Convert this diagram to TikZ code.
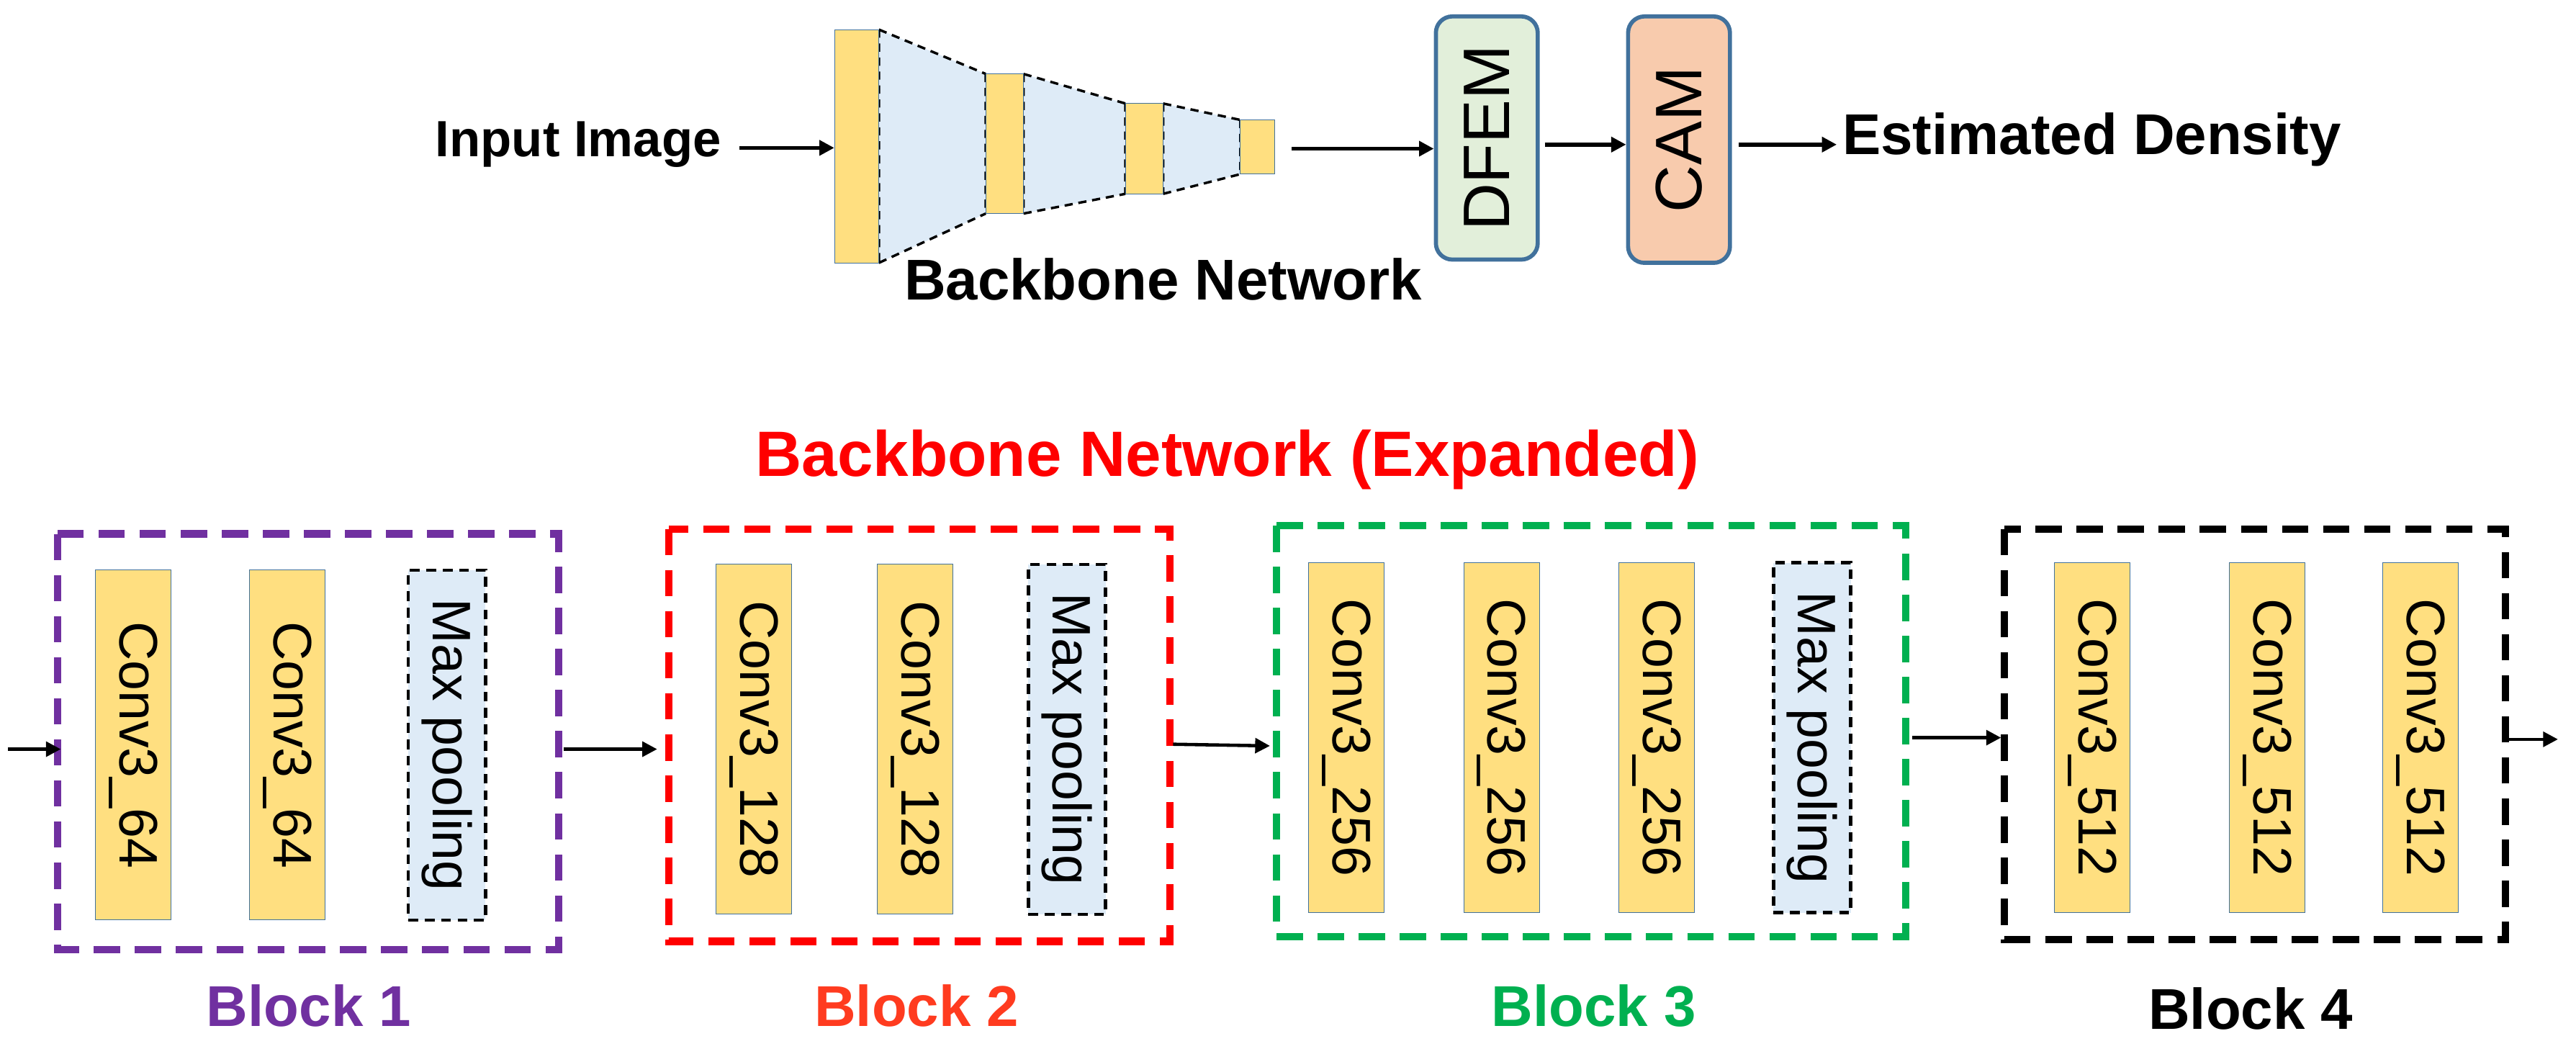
\documentclass[tikz,border=0pt]{standalone}
\usepackage{fontspec}
\setmainfont{Liberation Sans}
\usetikzlibrary{arrows.meta,calc}
\definecolor{cy}{HTML}{FFDF80}
\definecolor{cb}{HTML}{DEEBF7}
\definecolor{cg}{HTML}{E2EFDA}
\definecolor{cs}{HTML}{F8CBAD}
\definecolor{bd}{HTML}{41719C}
\definecolor{pu}{HTML}{7030A0}
\definecolor{gr}{HTML}{00B050}
\definecolor{or}{HTML}{FF3B1F}
\begin{document}
\begin{tikzpicture}[x=1pt,y=-1pt,
 arr/.style={line width=2.5pt,-{Triangle[length=9pt,width=9pt]}},
 conv/.style={draw=bd,line width=0.4pt,fill=cy,inner sep=0,minimum width=46pt,minimum height=213pt},
 pool/.style={draw=black,dash pattern=on 6pt off 4pt,line width=2pt,fill=cb,inner sep=0,minimum width=47pt,minimum height=213pt},
 blk/.style={dash pattern=on 16pt off 9pt,line width=4.5pt},
 lab/.style={font=\fontsize{35}{35}\selectfont\bfseries},
 top/.style={font=\fontsize{35}{35}\selectfont\bfseries},
 rtxt/.style={rotate=-90,font=\fontsize{33}{33}\selectfont},
 fun/.style={fill=cb,draw=black,line width=1.5pt,dash pattern=on 5pt off 3.5pt}]
\useasboundingbox (0,0) rectangle (1568,638.5);
% top
\node[font=\fontsize{31}{31}\selectfont\bfseries] (in) at (352,88) {Input Image};
\fill[fun,draw=none] (535,18)--(600,45)--(600,130)--(535,160)--cycle;
\fill[fun,draw=none] (623,45)--(685,63)--(685,118)--(623,130)--cycle;
\fill[fun,draw=none] (708,63)--(755,73)--(755,106)--(708,118)--cycle;
\draw[fun,fill=none] (535,18)--(600,45) (535,160)--(600,130) (535,18)--(535,160) (600,45)--(600,130)
 (623,45)--(685,63) (623,130)--(685,118) (623,45)--(623,130) (685,63)--(685,118)
 (708,63)--(755,73) (708,118)--(755,106) (708,63)--(708,118) (755,73)--(755,106);
\node[draw=bd,fill=cy,line width=0.4pt,minimum width=27pt,minimum height=142pt,inner sep=0] (r1) at (521.5,89) {};
\node[draw=bd,fill=cy,line width=0.4pt,minimum width=23pt,minimum height=85pt,inner sep=0] (r2) at (611.5,87.5) {};
\node[draw=bd,fill=cy,line width=0.4pt,minimum width=23pt,minimum height=55pt,inner sep=0] (r3) at (696.5,90.5) {};
\node[draw=bd,fill=cy,line width=0.4pt,minimum width=21pt,minimum height=33pt,inner sep=0] (r4) at (765.5,89.5) {};
\draw[arr] (450,90) coordinate (ia) -- (r1.west|-ia);
\node[top] (bbt) at (708,170) {Backbone Network};
\node[draw=bd,fill=cg,line width=2.5pt,rounded corners=10pt,minimum width=62pt,minimum height=148pt,inner sep=0] (dfem) at (905,84) {};
\node[rotate=90,font=\fontsize{40}{40}\selectfont] at (dfem.center) {DFEM};
\node[draw=bd,fill=cs,line width=2.5pt,rounded corners=10pt,minimum width=62pt,minimum height=150pt,inner sep=0] (cam) at (1022,85) {};
\node[rotate=90,font=\fontsize{40}{40}\selectfont] at (cam.center) {CAM};
\node[top,anchor=west] (ed) at (1118,85) {Estimated Density};
\draw[arr] ($(r4.east)+(10,1)$) coordinate(a0) -- (dfem.west|-a0);
\draw[arr] ($(dfem.east)+(3,4)$) coordinate(a1) -- (cam.west|-a1);
\draw[arr] ($(cam.east)+(4,3)$) coordinate(a2) -- (ed.west|-a2);
% title
\node[font=\fontsize{39}{39}\selectfont\bfseries,text=red] at (747,280) {Backbone Network (Expanded)};
% blocks
\draw[blk,pu] (35,325) rectangle (340,578); \node[lab,text=pu] (l1) at (188,612) {Block 1};
\draw[blk,red] (407,322) rectangle (712,573); \node[lab,text=or] (l2) at (558,612) {Block 2};
\draw[blk,gr] (777,320) rectangle (1160,570); \node[lab,text=gr] (l3) at (970,612) {Block 3};
\draw[blk,black] (1220,322) rectangle (1525,572); \node[lab] (l4) at (1370,614) {Block 4};
\node[conv] (c11) at (81,453.5) {}; \node[rtxt] at (c11) {Conv3\_64};
\node[conv] (c12) at (175,453.5) {}; \node[rtxt] at (c12) {Conv3\_64};
\node[pool] (p1) at (272,453.5) {}; \node[rtxt] at (p1) {Max pooling};
\node[conv] (c21) at (459,450) {}; \node[rtxt] at (c21) {Conv3\_128};
\node[conv] (c22) at (557,450) {}; \node[rtxt] at (c22) {Conv3\_128};
\node[pool] (p2) at (649.5,450) {}; \node[rtxt] at (p2) {Max pooling};
\node[conv] (c31) at (819.5,449) {}; \node[rtxt] at (c31) {Conv3\_256};
\node[conv] (c32) at (914,449) {}; \node[rtxt] at (c32) {Conv3\_256};
\node[conv] (c33) at (1008.5,449) {}; \node[rtxt] at (c33) {Conv3\_256};
\node[pool] (p3) at (1103,449) {}; \node[rtxt] at (p3) {Max pooling};
\node[conv] (c41) at (1273.5,449) {}; \node[rtxt] at (c41) {Conv3\_512};
\node[conv] (c42) at (1380,449) {}; \node[rtxt] at (c42) {Conv3\_512};
\node[conv] (c43) at (1473.5,449) {}; \node[rtxt] at (c43) {Conv3\_512};
\coordinate (s0) at (5,456); \coordinate (e0) at (37,456);
\coordinate (s1) at (343,456); \coordinate (e1) at (400,456);
\coordinate (s2) at (714,453); \coordinate (e2) at (773,454);
\coordinate (s3) at (1164,449); \coordinate (e3) at (1218,449);
\coordinate (s4) at (1525,450); \coordinate (e4) at (1557,450);
\foreach \i in {0,...,4} \draw[arr,line width=2pt] (s\i) -- (e\i);
\end{tikzpicture}
\end{document}
